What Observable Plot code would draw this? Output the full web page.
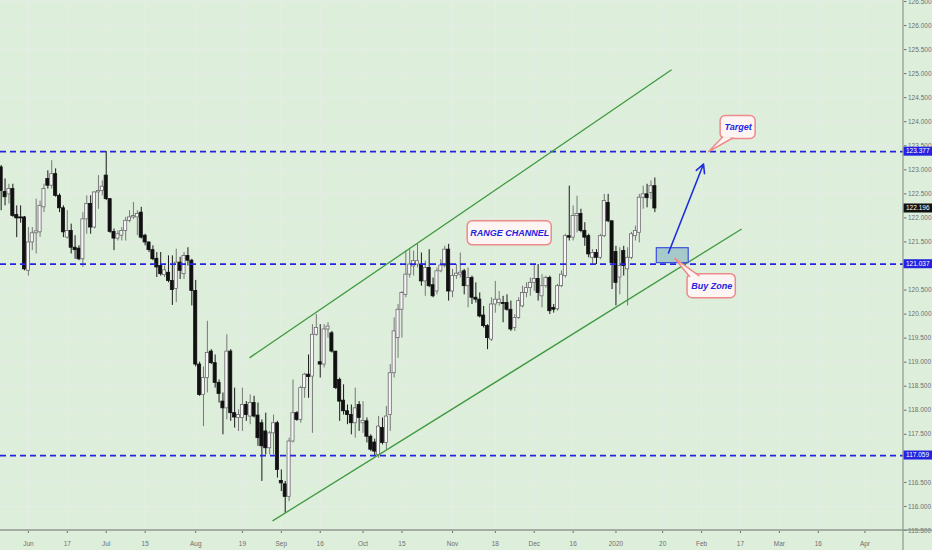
<!DOCTYPE html>
<html>
<head>
<meta charset="utf-8">
<script src="https://cdn.jsdelivr.net/npm/d3@7"></script>
<script src="https://cdn.jsdelivr.net/npm/@observablehq/plot@0.6"></script>
<style>
  body { margin: 0; background: #ddeedb; }
  #chart svg { display: block; }
</style>
</head>
<body>
<div id="chart"></div>
<script>
// daily candles, one per trading day (bar index = position in the arrays)
const opens = [
  123.05,122.54,122.49,122.60,122.06,122.01,122.01,120.90,121.49,121.68,
  121.70,122.22,122.81,122.67,122.91,122.46,122.20,121.59,121.73,121.38,
  121.36,121.14,121.97,122.29,121.80,122.53,122.56,122.88,122.39,121.71,
  121.57,121.63,121.73,121.94,122.01,122.01,122.11,121.63,121.49,121.33,
  121.15,121.00,120.81,120.86,120.69,120.52,121.07,120.83,121.21,121.11,
  120.48,118.95,118.32,118.67,119.22,118.98,118.57,118.18,118.04,119.22,
  117.94,117.84,117.84,118.11,117.87,118.15,117.89,117.73,117.56,117.21,
  117.52,117.73,116.53,116.46,116.20,117.35,117.94,117.80,118.46,118.74,
  118.70,119.57,119.00,118.95,119.68,119.60,119.22,118.63,118.20,117.98,
  117.90,117.73,118.11,117.73,117.77,117.45,117.33,117.07,117.63,117.32,
  117.90,118.77,119.50,120.09,120.40,120.82,120.99,121.03,121.03,120.68,
  120.96,120.60,120.47,120.89,121.00,121.34,120.47,120.79,120.82,120.89,
  120.58,120.75,120.34,120.30,119.97,119.75,119.47,120.20,120.23,120.23,
  120.23,120.09,119.71,119.92,120.16,120.44,120.54,120.65,120.73,120.37,
  120.58,120.75,120.13,120.10,120.58,120.79,121.62,121.59,122.04,122.08,
  121.73,121.62,121.17,121.27,121.17,121.62,122.31,121.93,121.29,120.76,
  121.31,120.93,121.17,121.62,121.69,122.42,122.49,122.52,122.66
];
const highs = [
  123.09,122.81,122.70,122.70,122.25,122.25,122.03,121.80,121.80,122.39,
  122.35,122.70,122.98,123.19,123.02,122.50,122.25,122.15,121.87,121.63,
  121.42,122.11,122.46,122.46,122.54,122.88,122.77,123.38,122.40,121.77,
  121.73,121.80,122.01,122.15,122.32,122.15,122.22,121.66,121.49,121.42,
  121.28,121.28,121.00,121.21,121.21,121.35,121.18,121.28,121.38,121.14,
  120.70,119.00,118.90,119.85,119.26,119.15,118.63,118.36,119.57,119.26,
  118.46,118.01,118.46,118.18,118.32,118.29,118.15,117.80,117.94,117.56,
  117.90,117.77,116.76,116.52,117.42,118.63,117.97,118.50,118.77,119.15,
  119.78,119.99,119.78,119.78,119.82,119.64,119.22,118.67,118.53,118.11,
  118.11,118.46,118.18,118.18,117.84,117.49,117.40,117.87,117.84,118.08,
  118.95,119.92,120.20,120.47,121.31,121.34,121.31,121.45,121.27,121.10,
  121.34,120.75,120.96,121.13,121.41,121.45,120.93,121.03,121.27,120.93,
  120.96,120.79,120.65,120.44,120.16,119.78,120.34,120.68,120.47,120.37,
  120.40,120.27,119.99,120.34,120.58,120.65,120.75,121.03,121.03,120.82,
  120.79,120.79,120.20,120.62,120.90,121.66,122.66,122.25,122.45,122.18,
  121.90,121.66,121.34,121.34,121.66,122.49,122.49,121.93,121.41,121.38,
  121.41,121.38,121.70,121.83,122.49,122.66,122.70,122.77,122.83
];
const lows = [
  122.15,122.25,122.29,122.01,121.59,121.89,120.90,120.79,121.32,121.25,
  121.60,122.11,122.60,122.60,122.43,122.11,121.59,121.56,121.25,121.14,
  121.11,120.97,121.66,121.66,121.77,122.18,122.46,122.36,121.68,121.32,
  121.52,121.52,121.52,121.90,121.97,121.63,121.56,121.42,121.28,121.11,
  120.76,120.79,120.76,120.65,120.18,120.24,120.72,120.72,121.00,120.17,
  118.90,118.29,117.66,118.36,118.95,118.46,118.15,117.49,117.80,117.77,
  117.63,117.56,117.56,117.77,117.70,117.84,117.25,116.52,117.07,117.07,
  117.07,116.59,116.31,115.86,116.10,117.32,117.77,117.73,118.25,118.25,
  117.52,119.54,118.67,118.88,119.50,119.19,118.43,117.77,117.90,117.70,
  117.49,117.42,117.56,117.52,117.32,117.14,117.06,117.00,117.28,117.18,
  117.56,118.67,119.08,119.50,120.34,120.75,120.79,120.96,120.58,120.37,
  120.55,120.34,120.40,120.86,120.96,120.27,120.34,120.72,120.75,120.40,
  120.13,120.20,120.23,119.92,119.71,119.26,119.43,120.02,120.16,119.82,
  120.06,119.64,119.64,119.89,120.13,120.34,120.37,120.47,120.27,120.13,
  120.54,119.99,120.02,120.06,120.55,120.75,121.52,121.52,121.69,121.69,
  121.41,121.17,121.03,121.03,121.13,121.59,121.90,120.51,120.17,120.40,
  120.79,120.17,121.13,121.52,121.48,122.18,122.21,122.38,122.11
];
const closes = [
  122.56,122.43,122.60,122.04,121.99,121.99,120.93,121.49,121.68,121.72,
  122.25,122.60,122.67,122.91,122.46,122.20,121.70,121.73,121.38,121.33,
  121.14,121.97,122.29,121.80,122.53,122.56,122.65,122.39,121.71,121.57,
  121.66,121.73,121.94,122.01,122.04,122.08,121.59,121.49,121.33,121.14,
  120.97,120.83,120.91,120.69,120.50,121.07,120.90,121.21,121.11,120.48,
  118.95,118.32,118.67,119.19,118.98,118.57,118.34,118.04,119.22,117.94,
  117.85,117.90,118.11,117.90,118.15,117.87,117.42,117.25,117.21,117.52,
  117.73,116.76,116.48,116.20,117.35,117.94,117.80,118.46,118.74,118.69,
  119.57,119.71,118.95,119.68,119.74,119.22,118.46,118.18,117.98,117.90,
  117.73,118.04,117.84,117.78,117.45,117.18,117.14,117.66,117.32,117.87,
  118.77,119.64,120.09,120.44,120.82,121.03,121.10,121.10,120.68,120.96,
  120.58,120.37,120.89,121.01,121.34,120.47,120.79,120.84,120.86,120.58,
  120.75,120.34,120.30,119.95,119.75,119.50,120.20,120.30,120.30,120.21,
  120.09,119.68,119.92,120.27,120.44,120.54,120.65,120.73,120.44,120.58,
  120.75,120.06,120.09,120.58,120.82,121.62,121.59,122.04,122.08,121.73,
  121.59,121.24,121.27,121.17,121.62,122.35,121.93,121.06,120.65,121.00,
  121.00,121.17,121.66,121.73,122.42,122.49,122.41,122.66,122.196
];

// time axis: bar index of each label
const tickBars = [7, 17, 27, 37, 50, 62, 72, 82, 93, 103, 116, 127, 137, 147, 158, 170, 180, 190, 200, 210, 222];
const tickLabels = ["Jun", "17", "Jul", "15", "Aug", "19", "Sep", "16", "Oct", "15", "Nov", "18", "Dec", "16", "2020", "20", "Feb", "17", "Mar", "16", "Apr"];
const priceTicks = [115.5, 116, 116.5, 117, 117.5, 118, 118.5, 119, 119.5, 120, 120.5, 121, 121.5, 122, 122.5, 123, 123.5, 124, 124.5, 125, 125.5, 126, 126.5];

// drawings (bar index / price)
const levels = [123.377, 121.037, 117.059];
const lastPrice = 122.196;
const channelStart = [[63.8, 119.09], [69.75, 115.70]];
const channelEnd = [[172.3, 125.08], [190.3, 121.77]];
const zoneBars = [168.5, 176.7];
const zonePrices = [121.06, 121.37];
const arrowFrom = [171.5, 121.27];
const arrowTo = [180.5, 123.12];
const noteTexts = ["Target", "Buy Zone", "RANGE CHANNEL"];
const noteBars = [[184.9, 193.9], [176.4, 188.8], [119.9, 141.5]];
const notePrices = [[123.64, 124.12], [120.33, 120.83], [121.43, 121.93]];
const noteTails = [
  [[185.4, 123.683], [181.8, 123.377], [188.0, 123.662]],
  [[176.9, 120.78], [173.1, 121.16], [179.3, 120.80]],
  null
];

const candles = opens.map((o, i) => ({i, open: o, high: highs[i], low: lows[i], close: closes[i]}));
const notes = noteTexts.map((t, k) => ({
  text: t, x1: noteBars[k][0], x2: noteBars[k][1], y1: notePrices[k][0], y2: notePrices[k][1]
}));
const tails = noteTails.flatMap((pts, k) => pts ? pts.map(p => ({k, x: p[0], y: p[1]})) : []);
const channels = channelStart.map((s, k) => ({x1: s[0], y1: s[1], x2: channelEnd[k][0], y2: channelEnd[k][1]}));
const labelByBar = new Map(tickBars.map((b, k) => [b, tickLabels[k]]));
const tagged = levels.concat([lastPrice]);

const blue = "#2424e0";
const green = "#3f9a3f";
const pink = "#ee8a8a";
const gridColor = "#e6ece8";
const axisColor = "#8d998d";
const font = "'Liberation Sans', Arial, sans-serif";

const up = d => d.close >= d.open;

// price labels hidden under a tag box, as on the original
const priceLabel = d => tagged.some(v => Math.abs(v - d) < 0.07) ? "" : d3.format(".3f")(d);

function priceAxisDecor(index, {y}, values, {width, height, marginRight, marginBottom}) {
  const g = d3.create("svg:g").attr("font-family", font);
  const x0 = width - marginRight;
  g.append("line")
    .attr("x1", 0).attr("x2", width)
    .attr("y1", height - marginBottom).attr("y2", height - marginBottom)
    .attr("stroke", axisColor).attr("stroke-width", 1.6);
  g.append("line")
    .attr("x1", x0).attr("x2", x0)
    .attr("y1", 0).attr("y2", height)
    .attr("stroke", axisColor).attr("stroke-width", 1.2);
  const tags = levels.map(v => ({v, fill: blue})).concat([{v: lastPrice, fill: "#121212"}]);
  const t = g.selectAll("g.tag").data(tags).join("g")
    .attr("transform", d => `translate(${x0},${y(d.v)})`);
  t.append("rect")
    .attr("x", 0.6).attr("y", -4.5).attr("width", marginRight).attr("height", 9)
    .attr("fill", d => d.fill);
  t.append("text")
    .attr("x", 3).attr("dy", "0.35em")
    .attr("text-anchor", "start")
    .attr("fill", "white").attr("font-size", 6.5)
    .text(d => d.v.toFixed(3));
  return g.node();
}

const chart = Plot.plot({
  width: 932,
  height: 550,
  marginLeft: 0,
  marginRight: 29,
  marginTop: 1,
  marginBottom: 20,
  style: {
    background: "#ddeedb",
    color: "#707070",
    fontSize: "6.5px",
    fontFamily: font
  },
  x: {
    type: "linear",
    domain: [-0.17, 231.9],
    axis: "bottom",
    ticks: tickBars,
    tickFormat: d => labelByBar.get(d),
    tickSize: 3,
    tickPadding: 8,
    label: null
  },
  y: {
    domain: [115.5, 126.5],
    axis: "right",
    ticks: priceTicks,
    tickFormat: priceLabel,
    tickSize: 2.5,
    tickPadding: 2,
    label: null
  },
  marks: [
    Plot.ruleX(tickBars, {stroke: gridColor, strokeWidth: 1}),
    Plot.ruleY(priceTicks, {stroke: gridColor, strokeWidth: 1}),

    // candles
    Plot.ruleX(candles, {x: "i", y1: "low", y2: "high", stroke: d => up(d) ? "#777777" : "#1a1a1a", strokeWidth: 1}),
    Plot.rect(candles, {
      x1: d => d.i - 0.4, x2: d => d.i + 0.4,
      y1: "open", y2: "close",
      fill: d => up(d) ? "#f6f6f6" : "#111111",
      stroke: d => up(d) ? "#6a6a6a" : "#111111",
      strokeWidth: 0.8
    }),

    // drawings
    Plot.ruleY(levels, {stroke: blue, strokeWidth: 1.8, strokeDasharray: "6,4"}),
    Plot.link(channels, {x1: "x1", y1: "y1", x2: "x2", y2: "y2", stroke: green, strokeWidth: 1.3}),
    Plot.rect([0], {
      x1: zoneBars[0], x2: zoneBars[1], y1: zonePrices[0], y2: zonePrices[1],
      fill: "#a6caca", stroke: "#3b4fe0", strokeWidth: 1.2
    }),
    Plot.arrow([0], {
      x1: arrowFrom[0], y1: arrowFrom[1], x2: arrowTo[0], y2: arrowTo[1],
      stroke: "#1f2fe0", strokeWidth: 1.6, headLength: 9, headAngle: 55
    }),

    // callouts
    Plot.rect(notes, {x1: "x1", x2: "x2", y1: "y1", y2: "y2", fill: "#fdf4f4", stroke: pink, strokeWidth: 1.5, rx: 5}),
    Plot.line(tails, {x: "x", y: "y", z: "k", fill: "#fdf4f4", stroke: pink, strokeWidth: 1.5}),
    Plot.text(notes, {
      x: d => (d.x1 + d.x2) / 2, y: d => (d.y1 + d.y2) / 2, text: "text",
      fill: blue, fontSize: 9, fontWeight: "bold", fontStyle: "italic", fontFamily: font
    }),

    priceAxisDecor
  ]
});

document.getElementById("chart").append(chart);
</script>
</body>
</html>
